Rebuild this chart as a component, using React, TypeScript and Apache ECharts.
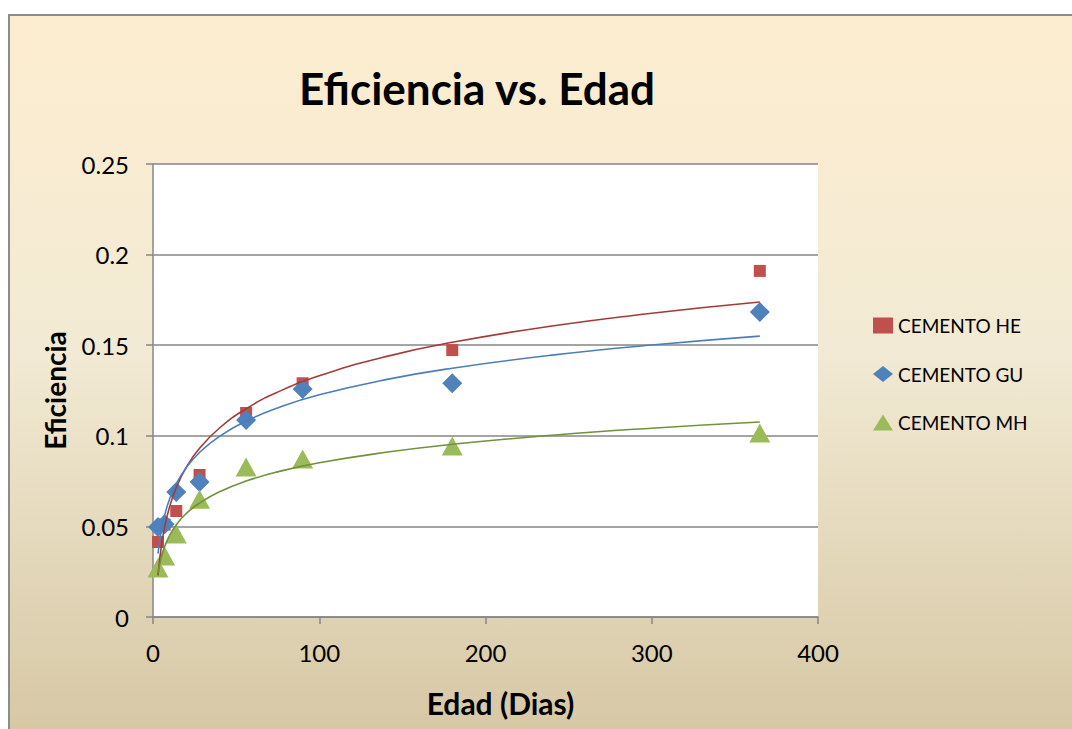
import React, { useEffect, useRef } from "react";
import * as echarts from "echarts";

const DAYS = [3, 7, 14, 28, 56, 90, 180, 365];
const HE = [0.0414, 0.051, 0.0585, 0.0784, 0.1126, 0.129, 0.1473, 0.191];
const GU = [0.0497, 0.0512, 0.069, 0.0745, 0.1087, 0.1258, 0.129, 0.1683];
const MH = [0.027, 0.0337, 0.0458, 0.065, 0.0828, 0.0872, 0.0944, 0.1015];

// trend lines (logarithmic)
const TREND_X = [3, 5, 7, 10, 14, 20, 28, 40, 56, 75, 100, 140, 180, 240, 300, 365];
const HE_TREND = [0.023, 0.039, 0.0496, 0.0608, 0.0714, 0.0826, 0.0931, 0.1043, 0.1149, 0.1241, 0.1331, 0.1437, 0.1516, 0.1606, 0.1676, 0.1738];
const GU_TREND = [0.035, 0.0477, 0.0561, 0.0651, 0.0735, 0.0824, 0.0908, 0.0997, 0.1081, 0.1154, 0.1226, 0.131, 0.1373, 0.1445, 0.1501, 0.155];
const MH_TREND = [0.024, 0.0329, 0.0388, 0.045, 0.0508, 0.0571, 0.0629, 0.0691, 0.075, 0.0801, 0.0851, 0.0909, 0.0953, 0.1003, 0.1042, 0.1076];

const NAMES = ["CEMENTO HE", "CEMENTO GU", "CEMENTO MH"];
const TITLE = "Eficiencia vs. Edad";
const X_TITLE = "Edad (Dias)";
const Y_TITLE = "Eficiencia";

const FONT = "Lato";

export default function App() {
  const ref = useRef<HTMLDivElement>(null);
  useEffect(() => {
    if (!ref.current) return;
    const chart = echarts.init(ref.current, undefined, { renderer: "svg" });
    const pair = (xs: number[], ys: number[]) => xs.map((x, i) => [x, ys[i]]);
    const trend = (name: string, ys: number[], color: string) => ({
      name: name + " trend",
      type: "line",
      data: pair(TREND_X, ys),
      smooth: true,
      showSymbol: false,
      symbol: "none",
      lineStyle: { color, width: 1.6 },
      z: 5,
      silent: true,
    });
    chart.setOption({
      animation: false,
      backgroundColor: "#ffffff",
      textStyle: { fontFamily: FONT },
      graphic: {
        elements: [
          {
            type: "rect",
            z: -10,
            shape: { x: 9, y: 15, width: 1100, height: 740 },
            style: {
              fill: new echarts.graphic.LinearGradient(0, 0, 0, 1, [
                { offset: 0, color: "#FDEDD0" },
                { offset: 0.45, color: "#F2EAD4" },
                { offset: 1, color: "#D5C6A2" },
              ]),
              stroke: "#8C8C8C",
              lineWidth: 2,
            },
          },
          {
            type: "text",
            x: 477,
            y: 88,
            style: {
              text: TITLE,
              fontFamily: FONT,
              fontWeight: "bold",
              fontSize: 44,
              fill: "#000",
              textAlign: "center",
              textVerticalAlign: "middle",
            },
          },
        ],
      },
      grid: {
        left: 153,
        top: 164,
        right: 254,
        bottom: 112,
        show: true,
        backgroundColor: "#ffffff",
        borderWidth: 0,
      },
      legend: {
        data: NAMES,
        orient: "vertical",
        left: 868,
        top: 311,
        itemWidth: 20,
        itemHeight: 16,
        itemGap: 29.5,
        textStyle: { fontFamily: FONT, fontSize: 19, color: "#000" },
      },
      xAxis: {
        type: "value",
        min: 0,
        max: 400,
        interval: 100,
        name: X_TITLE,
        nameLocation: "middle",
        nameGap: 71,
        nameTextStyle: {
          fontFamily: FONT,
          fontSize: 30,
          fontWeight: "bold",
          color: "#000",
          padding: [0, 0, 0, 30],
        },
        axisLine: { show: true, lineStyle: { color: "#868686", width: 1.5 } },
        axisTick: { show: true, length: 7, lineStyle: { color: "#868686", width: 1.5 } },
        axisLabel: { fontFamily: FONT, fontSize: 24, color: "#000", margin: 23 },
        splitLine: { show: false },
      },
      yAxis: {
        type: "value",
        min: 0,
        max: 0.25,
        interval: 0.05,
        name: Y_TITLE,
        nameLocation: "middle",
        nameGap: 84,
        nameRotate: 90,
        nameTextStyle: { fontFamily: FONT, fontSize: 28, fontWeight: "bold", color: "#000" },
        axisLine: { show: true, lineStyle: { color: "#868686", width: 1.5 } },
        axisTick: { show: true, length: 7, lineStyle: { color: "#868686", width: 1.5 } },
        axisLabel: { fontFamily: FONT, fontSize: 24, color: "#000", margin: 24 },
        splitLine: { show: true, lineStyle: { color: "#868686", width: 1.5 } },
      },
      series: [
        {
          name: NAMES[0],
          type: "scatter",
          data: pair(DAYS, HE),
          symbol: "rect",
          symbolSize: 12,
          itemStyle: { color: "#C0504D", opacity: 1 },
          z: 2,
        },
        {
          name: NAMES[1],
          type: "scatter",
          data: pair(DAYS, GU),
          symbol: "diamond",
          symbolSize: [20, 20],
          itemStyle: { color: "#4F81BD", opacity: 1 },
          z: 3,
        },
        {
          name: NAMES[2],
          type: "scatter",
          data: pair(DAYS, MH),
          symbol: "triangle",
          symbolSize: [21, 19],
          itemStyle: { color: "#9BBB59", opacity: 1 },
          z: 4,
        },
        trend(NAMES[0], HE_TREND, "#A23B38"),
        trend(NAMES[1], GU_TREND, "#4A7EBB"),
        trend(NAMES[2], MH_TREND, "#71913A"),
      ],
    });
    return () => chart.dispose();
  }, []);
  return (
    <div
      ref={ref}
      style={{ position: "fixed", left: 0, top: 0, width: 1072, height: 729 }}
    />
  );
}
